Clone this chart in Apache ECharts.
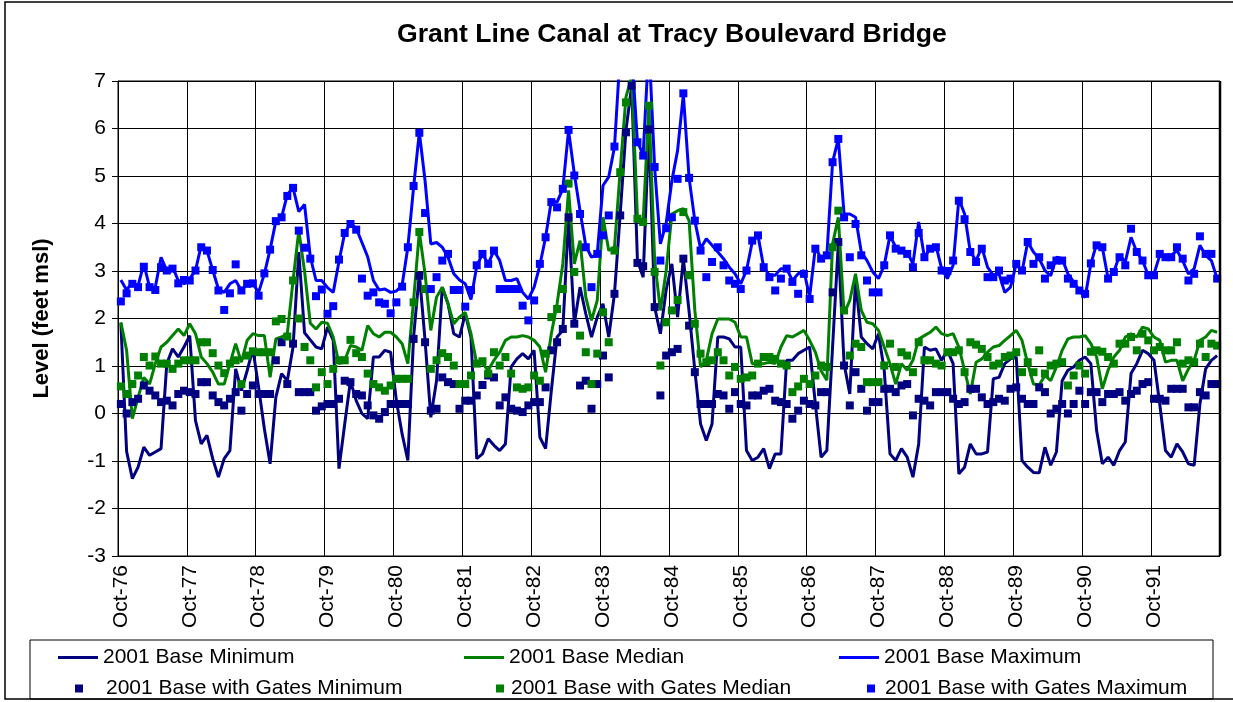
<!DOCTYPE html>
<html>
<head>
<meta charset="utf-8">
<script src="https://cdn.jsdelivr.net/npm/echarts@6/dist/echarts.min.js"></script>
<style>
  html, body { margin: 0; padding: 0; background: #fff; }
  #chart { width: 1233px; height: 702px; }
</style>
</head>
<body>
<div id="chart"></div>
<script>
var FONT = '"Liberation Sans", Arial, sans-serif';

// month categories, Oct-76 .. Sep-92
var monthNames = ['Oct','Nov','Dec','Jan','Feb','Mar','Apr','May','Jun','Jul','Aug','Sep'];
var months = [];
for (var y = 76; y < 92; y++) {
  for (var m = 0; m < 12; m++) {
    months.push(monthNames[m] + '-' + (m < 3 ? y : y + 1));
  }
}

var yTicks = [-3, -2, -1, 0, 1, 2, 3, 4, 5, 6, 7];

// 2001 Base (lines)
var baseMin = [
  1.9, -0.8, -1.37, -1.13, -0.71, -0.88, -0.81, -0.74, 1.05, 1.36, 1.19, 1.4,
  1.64, -0.15, -0.64, -0.46, -0.95, -1.34, -0.95, -0.78, 0.94, 0.48, 0.9, 1.36,
  0.55, -0.32, -1.06, 0.34, 0.84, 0.69, 1.4, 3.4, 1.7, 1.55, 1.4, 1.36,
  1.82, 1.54, -1.16, -0.22, 0.69, 0.27, 0, -0.11, 1.19, 1.19, 1.33, 1.29,
  0.27, -0.43, -0.99, 1.61, 2.94, 1.54, -0.08, 0.69, 2.66, 2.31, 1.68, 1.61,
  2.1, 1.61, -0.95, -0.85, -0.53, -0.67, -0.78, -0.64, 0.98, 1.15, 1.26, 1.15,
  1.33, -0.5, -0.74, 0.48, 1.61, 1.75, 4.13, 1.89, 2.66, 2.1, 1.61, 2.03,
  2.31, 1.61, 2.52, 4.2, 5.96, 6.9, 3.22, 2.87, 6.03, 2.24, 1.68, 2.6,
  3.15, 2.03, 3.26, 2.15, 0.91, -0.22, -0.57, -0.22, 1.61, 1.61, 1.57, 1.4,
  1.4, -0.78, -0.99, -0.92, -0.74, -1.16, -0.85, -0.85, 1.12, 1.12, 1.26, 1.33,
  1.4, 0.2, -0.92, -0.78, 1.4, 3.57, 1.05, 0.41, 2.8, 1.61, 1.47, 1.36,
  1.68, 0.91, -0.85, -0.99, -0.74, -0.92, -1.34, -0.64, 1.4, 1.33, 1.36, 1.12,
  1.33, 1.05, -1.27, -1.13, -0.64, -0.85, -0.85, -0.81, 0.73, 0.76, 1.05, 1.15,
  1.19, -0.99, -1.13, -1.24, -1.25, -0.71, -1.09, -0.81, 0.69, 0.91, 0.98, 1.12,
  1.19, 1.05, -0.36, -1.06, -0.92, -1.09, -0.78, -0.6, 0.84, 1.05, 1.33, 1.26,
  1.12, 0.2, -0.78, -0.92, -0.64, -0.81, -1.06, -1.09, 0.2, 0.94, 1.12, 1.22
];
var baseMed = [
  1.92, 1.33, -0.11, 0.34, 0.76, 0.62, 1.05, 1.4, 1.5, 1.64, 1.78, 1.64,
  1.89, 1.68, 1.19, 1.05, 0.87, 0.62, 0.62, 1.05, 1.47, 1.08, 1.54, 1.68,
  1.64, 1.64, 0.76, 1.57, 1.61, 1.68, 2.8, 3.85, 3.0, 1.9, 1.78, 1.92,
  1.9, 1.61, 1.05, 1.12, 1.43, 1.4, 1.33, 1.85, 1.68, 1.61, 1.71, 1.71,
  1.61, 1.47, 1.05, 2.38, 3.82, 2.94, 1.75, 2.45, 2.66, 2.31, 1.89, 2.03,
  2.13, 1.68, 1.05, 1.05, 0.91, 1.12, 1.29, 1.54, 1.61, 1.61, 1.64, 1.61,
  1.54, 1.4, 0.87, 1.68, 2.31, 3.15, 4.7, 3.15, 3.64, 2.45, 1.96, 2.38,
  4.13, 3.43, 3.5, 5.12, 6.66, 7.1, 4.13, 4.06, 6.5, 3.22, 2.17, 3.0,
  4.2, 4.27, 4.31, 4.06, 2.17, 0.98, 1.12, 1.68, 1.99, 1.99, 1.99, 1.92,
  1.61, 1.61, 1.05, 1.05, 1.05, 1.08, 1.05, 1.4, 1.64, 1.61, 1.68, 1.75,
  1.54, 1.29, 0.9, 0.7, 3.57, 4.13, 2.1, 2.38, 2.94, 2.17, 1.92, 1.89,
  1.75, 1.4, 1.05, 0.62, 1.05, 0.91, 1.12, 1.57, 1.64, 1.71, 1.82, 1.68,
  1.64, 1.68, 1.4, 0.91, 0.41, 1.08, 1.15, 1.29, 1.4, 1.43, 1.54, 1.64,
  1.75, 1.54, 1.05, 0.62, 0.6, 0.8, 0.69, 0.98, 1.33, 1.57, 1.61, 1.61,
  1.64, 1.47, 1.19, 0.52, 0.91, 1.19, 1.33, 1.61, 1.68, 1.61, 1.82, 1.78,
  1.61, 1.54, 1.08, 1.12, 1.12, 0.69, 0.94, 1.12, 1.54, 1.61, 1.75, 1.71
];
var baseMax = [
  2.81, 2.6, 2.76, 2.69, 3.15, 2.66, 2.66, 3.29, 3.01, 3.08, 2.8, 2.73,
  2.84, 3.01, 3.54, 3.43, 3.02, 2.62, 2.55, 2.73, 2.8, 2.59, 2.73, 2.73,
  2.55, 2.94, 3.45, 4.05, 4.13, 4.61, 4.75, 4.25, 4.4, 3.3, 2.8, 2.8,
  2.65, 2.55, 3.2, 3.8, 4.0, 3.9, 3.6, 3.3, 2.8, 2.6, 2.62, 2.55,
  2.58, 2.7, 3.5, 4.76, 5.92, 4.9, 3.57, 3.6, 3.5, 3.29, 2.94, 2.81,
  2.73, 2.4, 3.1, 3.36, 3.15, 3.43, 3.22, 2.8, 2.8, 2.84, 2.55, 2.41,
  2.66, 3.12, 3.71, 4.48, 4.45, 4.73, 5.96, 5.05, 4.27, 3.53, 3.29, 3.36,
  4.8, 4.98, 5.61, 7.6, 8.0, 7.6, 5.72, 5.45, 7.8, 5.17, 3.57, 4.0,
  4.9, 5.54, 6.72, 4.96, 4.06, 3.47, 3.68, 3.54, 3.4, 3.26, 3.08, 2.94,
  2.73, 3.01, 3.61, 3.75, 3.08, 2.91, 2.91, 3.05, 3.05, 2.8, 2.94, 3.01,
  2.45, 3.5, 3.26, 3.33, 5.29, 5.78, 4.2, 4.2, 4.13, 3.4, 3.22, 2.98,
  2.84, 3.12, 3.75, 3.5, 3.43, 3.4, 3.15, 4.03, 3.29, 3.47, 3.54, 3.05,
  2.84, 3.12, 4.52, 4.2, 3.4, 3.22, 3.5, 3.08, 2.91, 2.94, 2.55, 2.66,
  3.15, 2.98, 3.61, 3.4, 3.26, 3.01, 2.9, 3.29, 3.26, 2.94, 2.77, 2.59,
  2.44, 3.15, 3.57, 3.5, 2.84, 2.98, 3.33, 3.19, 3.71, 3.4, 3.22, 2.91,
  2.94, 3.33, 3.33, 3.33, 3.43, 3.22, 2.94, 3.05, 3.54, 3.33, 3.22, 2.84
];

// 2001 Base with Gates (markers)
var gatesMin = [
  0.2, 0, 0.24, 0.31, 0.59, 0.48, 0.38, 0.24, 0.27, 0.17, 0.41, 0.48,
  0.45, 0.41, 0.66, 0.66, 0.38, 0.24, 0.17, 0.31, 0.45, 0.06, 0.41, 0.59,
  0.41, 0.41, 0.41, 1.12, 1.5, 0.62, 1.47, 0.45, 0.45, 0.45, 0.06, 0.15,
  0.2, 0.2, 0.31, 0.69, 0.66, 0.41, 0.38, 0.17, -0.04, -0.11, 0.03, 0.2,
  0.2, 0.2, 0.2, 1.57, 2.9, 1.5, 0.06, 0.1, 0.76, 0.66, 0.62, 0.1,
  0.27, 0.27, 0.38, 0.6, 0.8, 0.76, 0.17, 0.34, 0.1, 0.06, 0.03, 0.17,
  0.24, 0.24, 0.55, 1.33, 1.5, 1.78, 4.13, 1.89, 0.59, 0.69, 0.1, 0.62,
  1.22, 0.76, 2.52, 4.17, 5.92, 6.9, 3.17, 3.1, 5.98, 2.24, 0.38, 1.22,
  1.29, 1.36, 3.26, 1.85, 0.87, 0.2, 0.2, 0.2, 0.41, 0.38, 0.1, 0.45,
  0.2, 0.17, 0.38, 0.38, 0.48, 0.52, 0.27, 0.24, 0.2, -0.11, 0.06, 0.27,
  0.2, 0.17, 0.45, 0.45, 2.55, 3.61, 1.01, 0.17, 0.87, 0.52, 0.06, 0.24,
  0.24, 0.52, 0.52, 0.45, 0.59, 0.62, -0.04, 0.31, 0.27, 0.17, 0.45, 0.45,
  0.45, 0.31, 0.2, 0.24, 0.52, 0.52, 0.34, 0.2, 0.24, 0.31, 0.27, 0.52,
  0.55, 0.31, 0.2, 0.2, 0.55, 0.45, 0, 0.1, 0.2, 0, 0.2, 0.48,
  0.2, 0.45, 0.45, 0.24, 0.41, 0.41, 0.45, 0.27, 0.41, 0.48, 0.62, 0.66,
  0.31, 0.31, 0.27, 0.52, 0.52, 0.52, 0.13, 0.13, 0.45, 0.38, 0.62, 0.62
];
var gatesMed = [
  0.57, 0.41, 0.62, 0.8, 1.19, 1.01, 1.2, 1.05, 1.05, 0.94, 1.05, 1.12,
  1.12, 1.12, 1.5, 1.5, 1.27, 1.01, 0.85, 1.05, 1.12, 0.62, 1.22, 1.31,
  1.29, 1.29, 1.29, 1.94, 1.99, 1.62, 2.8, 2.0, 1.4, 1.12, 0.55, 0.87,
  0.62, 0.94, 1.12, 1.12, 1.55, 1.27, 1.19, 0.84, 0.62, 0.55, 0.48, 0.59,
  0.73, 0.73, 0.73, 2.34, 3.82, 2.62, 0.94, 1.12, 1.27, 1.19, 1.01, 0.62,
  0.62, 0.8, 1.05, 1.1, 0.84, 1.29, 1.01, 1.19, 0.84, 0.55, 0.52, 0.55,
  0.8, 0.69, 1.26, 2.03, 2.2, 2.62, 4.84, 2.98, 1.64, 1.29, 0.62, 1.26,
  2.13, 1.5, 3.43, 5.08, 6.55, 7.2, 4.1, 4.03, 6.48, 2.98, 1.01, 1.92,
  2.17, 2.39, 4.24, 2.91, 1.89, 1.26, 1.08, 1.12, 1.29, 1.12, 0.8, 0.98,
  0.73, 0.76, 0.8, 1.05, 1.19, 1.19, 1.15, 1.05, 1.01, 0.45, 0.57, 0.73,
  0.62, 0.8, 1.01, 0.98, 3.5, 4.27, 2.17, 1.22, 1.47, 1.4, 0.66, 0.66,
  0.66, 1.01, 1.47, 0.98, 1.29, 1.22, 0.87, 1.5, 1.12, 1.12, 1.05, 1.01,
  1.29, 1.29, 1.33, 0.87, 1.5, 1.45, 1.36, 1.19, 1.01, 1.05, 1.19, 1.22,
  1.29, 0.87, 1.08, 0.87, 1.33, 0.84, 1.01, 1.05, 1.08, 0.59, 0.8, 1.01,
  0.84, 1.3, 1.33, 1.3, 1.19, 1.05, 1.47, 1.47, 1.61, 1.33, 1.68, 1.54,
  1.33, 1.4, 1.33, 1.33, 1.5, 1.05, 1.12, 1.08, 1.47, 1.19, 1.47, 1.43
];
var gatesMax = [
  2.36, 2.53, 2.73, 2.66, 3.09, 2.66, 2.6, 3.08, 3.01, 3.05, 2.74, 2.81,
  2.8, 3.01, 3.5, 3.43, 3.02, 2.59, 2.18, 2.53, 3.14, 2.59, 2.73, 2.74,
  2.48, 2.95, 3.45, 4.05, 4.13, 4.58, 4.75, 3.85, 3.49, 3.26, 2.47, 2.61,
  2.1, 2.26, 3.24, 3.8, 3.99, 3.87, 2.84, 2.48, 2.55, 2.34, 2.31, 2.11,
  2.34, 2.67, 3.5, 4.79, 5.91, 4.22, 2.62, 2.87, 3.22, 3.36, 2.6, 2.6,
  2.25, 2.6, 3.12, 3.36, 3.15, 3.43, 2.62, 2.62, 2.62, 2.62, 2.27, 1.96,
  2.38, 3.15, 3.71, 4.45, 4.34, 4.73, 5.97, 5.01, 4.2, 3.5, 2.66, 3.36,
  3.75, 4.17, 5.62, 7.6, 8.0, 7.6, 5.71, 5.43, 7.8, 5.19, 3.22, 3.9,
  4.13, 4.94, 6.74, 4.96, 4.06, 3.43, 2.87, 3.19, 3.5, 3.12, 2.8, 2.73,
  2.62, 3.01, 3.64, 3.75, 3.08, 2.87, 2.59, 2.84, 3.05, 2.77, 2.52, 2.94,
  2.41, 3.47, 3.26, 3.33, 5.29, 5.78, 4.13, 3.29, 3.99, 3.33, 2.8, 2.55,
  2.55, 3.12, 3.75, 3.47, 3.43, 3.36, 3.08, 3.8, 3.29, 3.47, 3.5, 3.01,
  3.0, 3.22, 4.48, 4.09, 3.4, 3.19, 3.47, 2.87, 2.87, 3.01, 2.8, 2.84,
  3.15, 3.01, 3.61, 3.15, 3.29, 2.84, 3.12, 3.22, 3.22, 2.84, 2.73, 2.59,
  2.52, 3.16, 3.54, 3.5, 2.84, 2.98, 3.29, 3.12, 3.89, 3.4, 3.22, 2.91,
  2.91, 3.36, 3.29, 3.29, 3.5, 3.26, 2.8, 2.94, 3.73, 3.36, 3.36, 2.84
];

var NAVY = '#000080', GREEN = '#008000', BLUE = '#0000ff';

function lineSeries(name, data, color) {
  return {
    name: name, type: 'line', data: data,
    showSymbol: false, symbol: 'none',
    lineStyle: { color: color, width: 3 },
    itemStyle: { color: color },
    clip: true
  };
}
function markSeries(name, data, color) {
  return {
    name: name, type: 'line', data: data,
    symbol: 'rect', symbolSize: 8, showAllSymbol: true,
    lineStyle: { width: 0, opacity: 0 },
    itemStyle: { color: color },
    clip: true
  };
}
function legendAt(name, left, top, square, pad) {
  return {
    data: [name], left: left, top: top, padding: 0,
    icon: 'rect',
    itemWidth: square ? 8 : 40, itemHeight: square ? 8 : 3,
    selectedMode: false,
    textStyle: { fontFamily: FONT, fontSize: 21, color: '#000', padding: [0, 0, 0, pad] }
  };
}

var chart = echarts.init(document.getElementById('chart'));
chart.setOption({
  animation: false,
  backgroundColor: '#fff',
  title: {
    text: 'Grant Line Canal at Tracy Boulevard Bridge',
    left: 392, top: 16,
    textStyle: { fontFamily: FONT, fontSize: 26.6, fontWeight: 'bold', color: '#000' }
  },
  grid: { left: 118, top: 81, width: 1102, height: 475, show: true, borderColor: '#000', borderWidth: 1 },
  legend: [
    legendAt('2001 Base Minimum', 58, 647, false, 0),
    legendAt('2001 Base Median', 464, 647, false, 0),
    legendAt('2001 Base Maximum', 839, 647, false, 0),
    legendAt('2001 Base with Gates Minimum', 75, 678, true, 18),
    legendAt('2001 Base with Gates Median', 496, 678, true, 2),
    legendAt('2001 Base with Gates Maximum', 867, 678, true, 5)
  ],
  xAxis: {
    type: 'category', data: months, boundaryGap: true,
    axisLine: { lineStyle: { color: '#000', width: 1 } },
    axisTick: { interval: 11, length: 6, lineStyle: { color: '#000' } },
    axisLabel: {
      interval: 11, rotate: 90, margin: 9,
      fontFamily: FONT, fontSize: 21, color: '#000'
    },
    splitLine: { show: true, interval: 11, lineStyle: { color: '#000', width: 1 } }
  },
  yAxis: {
    type: 'value', min: yTicks[0], max: yTicks[yTicks.length - 1], interval: 1,
    name: 'Level (feet msl)', nameLocation: 'middle', nameGap: 65, nameRotate: 90,
    nameTextStyle: { fontFamily: FONT, fontSize: 22, fontWeight: 'bold', color: '#000' },
    axisLine: { show: true, lineStyle: { color: '#000', width: 1 } },
    axisTick: { show: true, length: 6, lineStyle: { color: '#000' } },
    axisLabel: { margin: 12, fontFamily: FONT, fontSize: 21, color: '#000' },
    splitLine: { show: true, lineStyle: { color: '#000', width: 1 } }
  },
  series: [
    lineSeries('2001 Base Minimum', baseMin, NAVY),
    lineSeries('2001 Base Median', baseMed, GREEN),
    lineSeries('2001 Base Maximum', baseMax, BLUE),
    markSeries('2001 Base with Gates Minimum', gatesMin, NAVY),
    markSeries('2001 Base with Gates Median', gatesMed, GREEN),
    markSeries('2001 Base with Gates Maximum', gatesMax, BLUE)
  ],
  graphic: [
    { type: 'rect', z: -1, shape: { x: 5, y: 2, width: 1240, height: 697 },
      style: { fill: 'none', stroke: '#000', lineWidth: 1.5 } },
    { type: 'rect', z: -1, shape: { x: 30, y: 640, width: 1183, height: 59 },
      style: { fill: 'none', stroke: '#000', lineWidth: 1 } },
    { type: 'line', z: 10, shape: { x1: 1220, y1: 81, x2: 1220, y2: 556 },
      style: { stroke: '#000', lineWidth: 2.5 } }
  ]
});
</script>
</body>
</html>
